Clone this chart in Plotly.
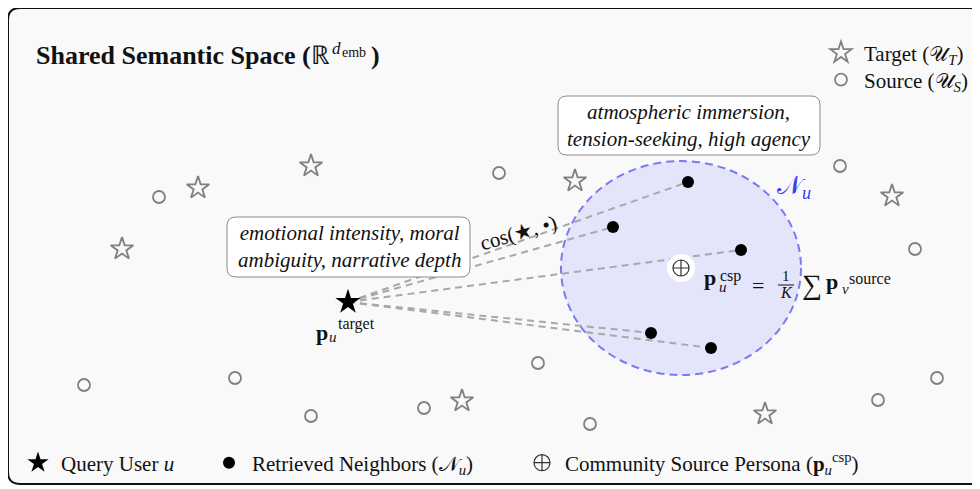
import plotly.graph_objects as go

W, H = 980, 489
OFF = 8  # the page body margin shifts the figure by 8px; axes are set so data units = screen pixels
SERIF = "Liberation Serif, Times New Roman, serif"
INK = "#111111"
GREY = "#808080"

# everything lives in screen-pixel space: x to the right, y downwards
target_x = [198, 311, 122, 575, 892, 462, 765]
target_y = [188, 166, 249, 181, 196, 401, 414]
source_x = [159, 499, 840, 915, 84, 235, 311, 424, 538, 590, 878, 937]
source_y = [197, 173, 166, 249, 385, 378, 416, 408, 363, 424, 400, 378]

query_x = [348]
query_y = [302]
neighbor_x = [688, 613, 741, 651, 711]
neighbor_y = [182, 227, 250, 333, 348]
csp_x = [681]
csp_y = [268]

# neighbourhood ellipse half-widths
NB_RX, NB_RY = 120, 107

fig = go.Figure()

# similarity lines query -> each neighbour
for nx, ny in zip(neighbor_x, neighbor_y):
    fig.add_trace(go.Scatter(
        x=[query_x[0], nx], y=[query_y[0], ny], mode="lines",
        line=dict(color="#a8a8a8", width=2, dash="7px,5px"),
        hoverinfo="skip", showlegend=False,
    ))

fig.add_trace(go.Scatter(
    x=target_x, y=target_y, mode="markers", name="Target (𝒰<sub><i>T</i></sub>)",
    marker=dict(symbol="star-open", size=17, color=GREY, line=dict(color=GREY, width=1.8)),
    legend="legend",
))
fig.add_trace(go.Scatter(
    x=source_x, y=source_y, mode="markers", name="Source (𝒰<sub><i>S</i></sub>)",
    marker=dict(symbol="circle-open", size=12, color=GREY, line=dict(color=GREY, width=1.8)),
    legend="legend2",
))
fig.add_trace(go.Scatter(
    x=csp_x, y=csp_y, mode="markers", showlegend=False, hoverinfo="skip",
    marker=dict(symbol="circle", size=28, color="white", line=dict(width=0)),
))
fig.add_trace(go.Scatter(
    x=csp_x, y=csp_y, mode="markers",
    name="Community Source Persona (<b>p</b><sub><i>u</i></sub><sup>csp</sup>)",
    marker=dict(symbol="circle-cross-open", size=16, color="#333333", line=dict(color="#333333", width=1.2)),
    legend="legend5",
))
fig.add_trace(go.Scatter(
    x=neighbor_x, y=neighbor_y, mode="markers", name="Retrieved Neighbors (𝒩<sub><i>u</i></sub>)",
    marker=dict(symbol="circle", size=12, color="black"),
    legend="legend4",
))
fig.add_trace(go.Scatter(
    x=query_x, y=query_y, mode="markers", name="Query User <i>u</i>",
    marker=dict(symbol="star", size=19, color="black"),
    legend="legend3",
))


def rounded(x0, y0, x1, y1, r):
    return (f"M {x0},{y0 + r} Q {x0},{y0} {x0 + r},{y0} L {x1 - r},{y0} Q {x1},{y0} {x1},{y0 + r} "
            f"L {x1},{y1 - r} Q {x1},{y1} {x1 - r},{y1} L {x0 + r},{y1} Q {x0},{y1} {x0},{y1 - r} Z")


shapes = [
    dict(type="path", path=rounded(8, 8, 1010, 484, 12), layer="below",
         fillcolor="#f9f9f9", line=dict(color="#111111", width=2)),
    dict(type="circle", layer="below",
         x0=csp_x[0] - NB_RX, x1=csp_x[0] + NB_RX, y0=csp_y[0] - NB_RY, y1=csp_y[0] + NB_RY,
         fillcolor="#e4e4fa", line=dict(color="#7a7af2", width=2, dash="8px,5px")),
    dict(type="path", path=rounded(558, 96, 820, 155, 9), layer="above",
         fillcolor="white", line=dict(color="#8c8c8c", width=1)),
    dict(type="path", path=rounded(227, 217, 470, 277, 9), layer="above",
         fillcolor="white", line=dict(color="#8c8c8c", width=1)),
    dict(type="line", x0=778, x1=794, y0=285, y1=285, layer="above",
         line=dict(color=INK, width=1)),
]


def txt(x, y, text, size=21, anchor="center", color=INK, angle=0):
    return dict(x=x, y=y, text=text, showarrow=False, xanchor=anchor, yanchor="middle",
                textangle=angle, borderpad=0, font=dict(family=SERIF, size=size, color=color))


annotations = [
    txt(35, 55, "<b>Shared Semantic Space (</b>ℝ", size=26, anchor="left"),
    txt(336, 48, "<i>d</i>", size=17),
    txt(354, 52, "emb", size=14),
    txt(370, 55, "<b>)</b>", size=26, anchor="left"),
    txt(689, 125, "<i>atmospheric immersion,<br>tension-seeking, high agency</i>"),
    txt(349, 246, "<i>emotional intensity, moral<br>ambiguity, narrative depth</i>"),
    txt(518, 233, "cos(★, •)", size=21, angle=-16),
    txt(794, 187, "𝒩<sub><i>u</i></sub>", size=26, color="#3b3bf0"),
    # p_u^target
    txt(322, 332, "<b>p</b>", size=22),
    txt(333, 337, "<i>u</i>", size=15),
    txt(356, 324, "target", size=16),
    # p_u^csp = 1/K sum p_v^source
    txt(710, 277, "<b>p</b>", size=22),
    txt(723, 287, "<i>u</i>", size=15),
    txt(730, 276, "csp", size=16),
    txt(758, 285, "=", size=22),
    txt(786, 276, "1", size=15),
    txt(786, 292, "<i>K</i>", size=16),
    txt(812, 284, "∑", size=28),
    txt(832, 281, "<b>p</b>", size=22),
    txt(845, 289, "<i>v</i>", size=15),
    txt(870, 278, "source", size=16),
]

leg_font = dict(family=SERIF, size=21, color=INK)


def leg(x, y):
    # x, y: screen position of the legend's left edge / vertical middle
    return dict(x=(x - OFF) / W, y=1 - (y - OFF) / H, xanchor="left", yanchor="middle",
                bgcolor="rgba(0,0,0,0)", borderwidth=0, font=leg_font, itemwidth=36, orientation="v")


fig.update_layout(
    width=W, height=H,
    margin=dict(l=0, r=0, t=0, b=0),
    paper_bgcolor="white", plot_bgcolor="white",
    xaxis=dict(range=[OFF, W + OFF], visible=False, fixedrange=True),
    yaxis=dict(range=[H + OFF, OFF], visible=False, fixedrange=True),
    shapes=shapes, annotations=annotations,
    showlegend=True,
    legend=leg(818, 53),
    legend2=leg(818, 80),
    legend3=leg(15, 463),
    legend4=leg(206, 463),
    legend5=leg(519, 463),
)

fig.write_html("out.html")
